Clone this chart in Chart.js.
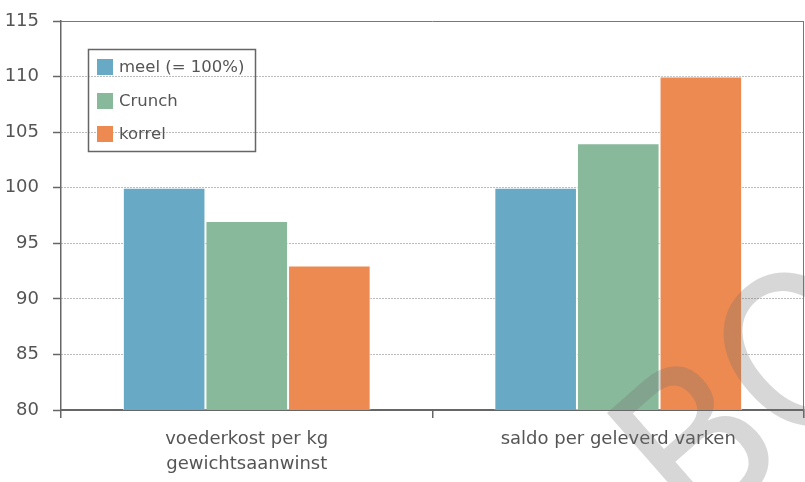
<!DOCTYPE html>
<html>
<head>
<meta charset="utf-8">
<script src="https://cdn.jsdelivr.net/npm/chart.js@4/dist/chart.umd.min.js"></script>
<style>
  html, body { margin: 0; padding: 0; background: #fff; }
  #wrap { width: 805px; height: 482px; }
</style>
</head>
<body>
<div id="wrap"><canvas id="chart"></canvas></div>
<script>
const categories = [["voederkost per kg", "gewichtsaanwinst"], "saldo per geleverd varken"];
const seriesNames = ["meel (= 100%)", "Crunch", "korrel"];
const meel = [100, 100];
const crunch = [97, 104];
const korrel = [93, 110];
const colors = ["#68a9c5", "#89b99b", "#ed8a51"];

const FONT = "'DejaVu Sans', sans-serif";
const TEXT = "#555";

// legend box drawn inside the plot
const boxLegend = {
  id: "boxLegend",
  afterDraw(chart) {
    const ctx = chart.ctx;
    ctx.save();
    ctx.strokeStyle = "#666";
    ctx.lineWidth = 1.5;
    ctx.strokeRect(88.5, 49.5, 167, 102);
    const ys = [67, 101, 134];
    ctx.font = "16.5px " + FONT;
    ctx.textBaseline = "middle";
    chart.data.datasets.forEach((ds, i) => {
      ctx.fillStyle = ds.backgroundColor;
      ctx.fillRect(97, ys[i] - 8, 16, 16);
      ctx.fillStyle = TEXT;
      ctx.fillText(ds.label, 119, ys[i] + 1);
    });
    ctx.restore();
  }
};

// top and right frame lines plus watermark
const frame = {
  id: "frame",
  afterDraw(chart) {
    const { ctx, chartArea: a } = chart;
    ctx.save();
    ctx.strokeStyle = "#777";
    ctx.lineWidth = 1;
    ctx.beginPath();
    ctx.moveTo(a.left, a.top + 0.5);
    ctx.lineTo(a.right, a.top + 0.5);
    ctx.moveTo(a.right - 0.5, a.top);
    ctx.lineTo(a.right - 0.5, a.bottom);
    ctx.stroke();

    ctx.translate(709, 452);
    ctx.rotate(-0.72);
    ctx.fillStyle = "rgba(110,110,110,0.28)";
    ctx.font = "215px 'DejaVu Sans Condensed', 'DejaVu Sans', sans-serif";
    ctx.textBaseline = "alphabetic";
    ctx.fillText("BO", -70, 60);
    ctx.restore();
  }
};

new Chart(document.getElementById("chart"), {
  type: "bar",
  data: {
    labels: categories,
    datasets: [
      { label: seriesNames[0], data: meel, backgroundColor: colors[0] },
      { label: seriesNames[1], data: crunch, backgroundColor: colors[1] },
      { label: seriesNames[2], data: korrel, backgroundColor: colors[2] }
    ].map(ds => Object.assign(ds, {
      borderColor: "rgba(255,255,255,0.6)",
      borderWidth: 1,
      borderSkipped: "bottom",
      categoryPercentage: 0.667,
      barPercentage: 1
    }))
  },
  options: {
    responsive: true,
    maintainAspectRatio: false,
    animation: false,
    layout: { padding: { top: 21, right: 1, left: 0, bottom: 0 } },
    plugins: {
      legend: { display: false },
      tooltip: { enabled: false }
    },
    scales: {
      x: {
        grid: { drawOnChartArea: false, tickLength: 8, color: "#666", lineWidth: 1.5 },
        border: { color: "#666", width: 2 },
        ticks: { color: TEXT, font: { family: FONT, size: 18, lineHeight: 1.4 }, padding: 9 },
        afterFit(s) { s.height = 72; }
      },
      y: {
        min: 80,
        max: 115,
        grid: {
          color: "#777",
          lineWidth: 1,
          tickLength: 8,
          tickColor: "#666",
          tickBorderDash: [],
          tickWidth: 1.5
        },
        border: { color: "#666", width: 1.5, dash: [1, 2] },
        ticks: { stepSize: 5, color: TEXT, font: { family: FONT, size: 18 }, padding: 14 },
        afterFit(s) { s.width = 61; s.paddingTop = 0; s.paddingBottom = 0; }
      }
    }
  },
  plugins: [boxLegend, frame]
});
</script>
</body>
</html>
